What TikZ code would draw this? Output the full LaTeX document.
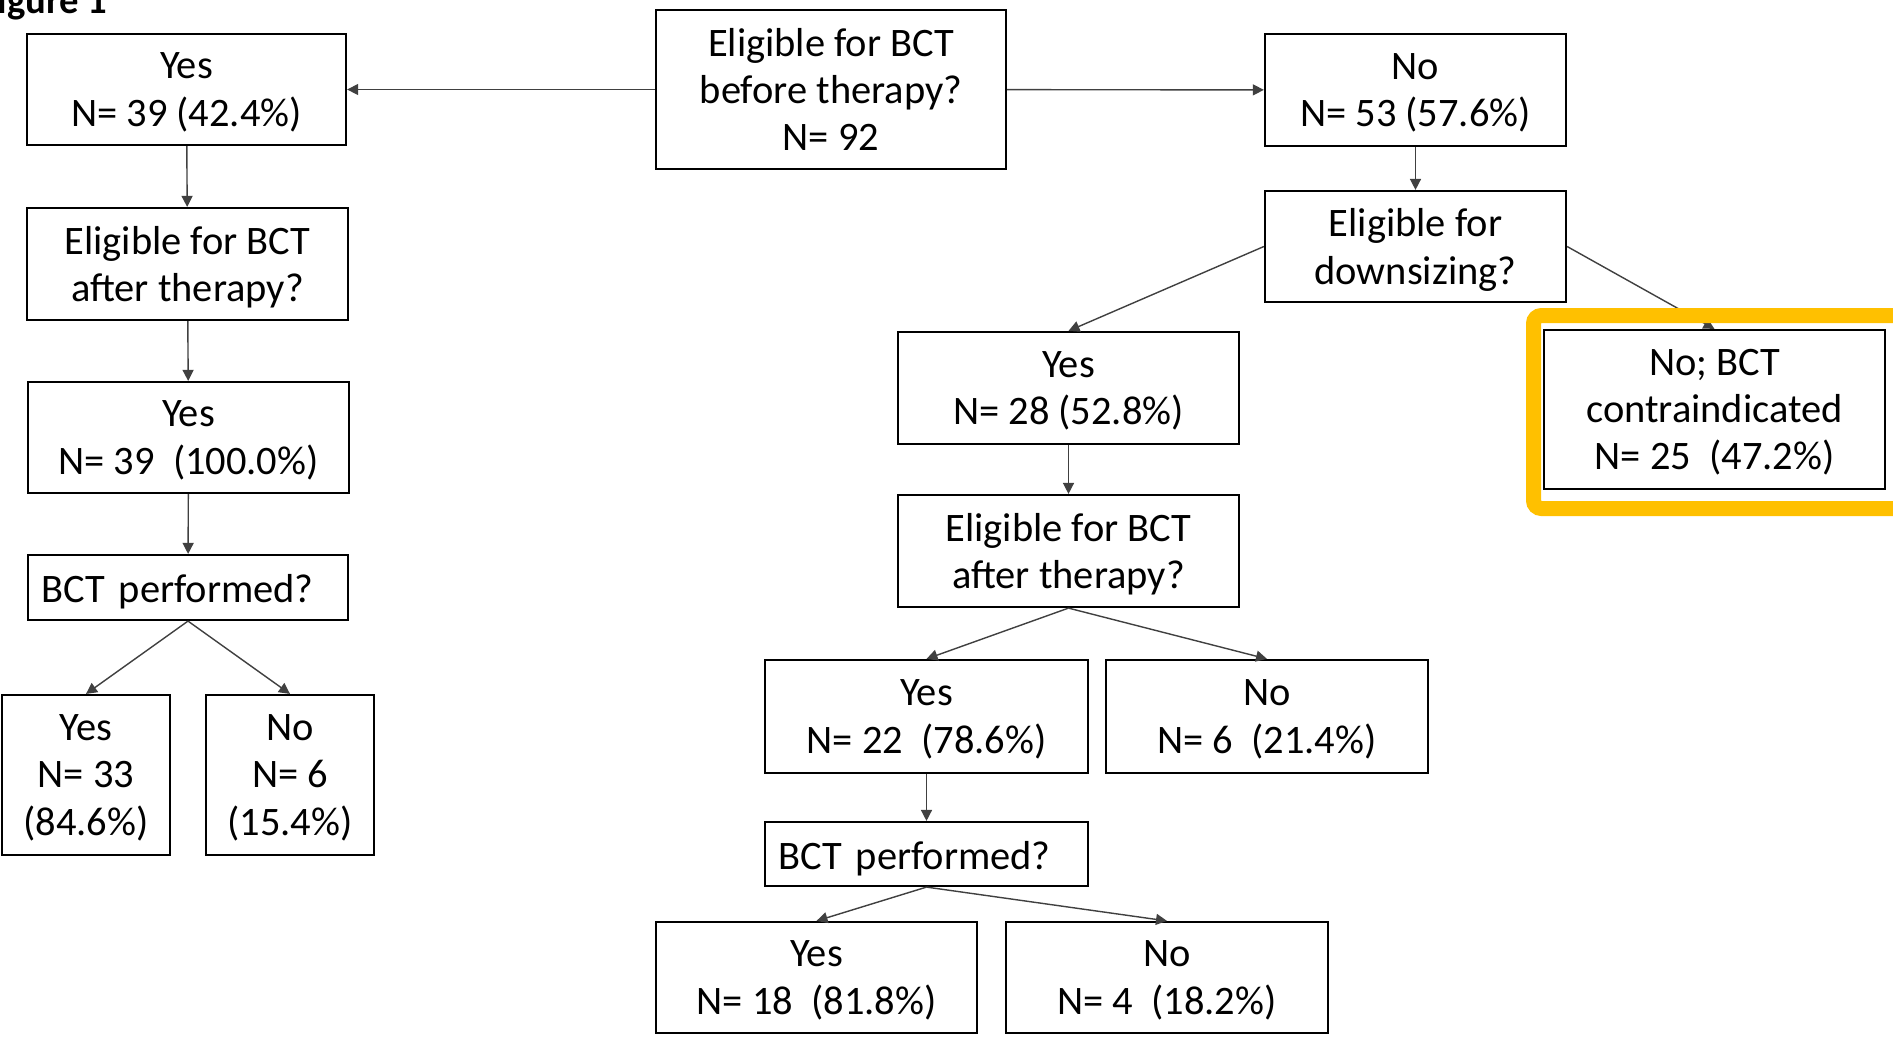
\documentclass[tikz,border=0pt]{standalone}
\usepackage{fontspec}
\setmainfont{Carlito}
\usetikzlibrary{arrows.meta}
\definecolor{frameorange}{HTML}{FFC000}
\tikzset{
  box/.style={draw, line width=0.6pt, align=center, inner sep=0pt, text depth=0pt,
    font=\fontsize{11.5}{13.4}\selectfont, execute at begin node={\rule{0pt}{8.6pt}}},
  leftbox/.style={box, align=left, text width=#1},
  link/.style={draw=black!75, line width=0.4pt, -{Triangle[length=1.1mm,width=1.1mm]}}
}
\begin{document}
\begin{tikzpicture}[x=0.01cm, y=-0.01cm]
    \useasboundingbox (0,0) rectangle (1893,1038);
    \node (fig) [anchor=base east, inner sep=0pt, font=\fontsize{11}{13}\bfseries] at (108,13) {Figure 1};
    % root and first split
    \node (root) [box, minimum width=3.5cm, minimum height=1.59cm] at (831,89.5) {Eligible for BCT\\before therapy?\\N= 92};
    \node (yes1) [box, minimum width=3.19cm, minimum height=1.11cm] at (186.5,89.5) {Yes\\N= 39 (42.4\%)};
    \node (no1) [box, minimum width=3.01cm, minimum height=1.12cm] at (1415.5,90) {No\\N= 53 (57.6\%)};
    % left branch
    \node (elig1) [box, minimum width=3.21cm, minimum height=1.12cm] at (187.5,264) {Eligible for BCT\\after therapy?};
    \node (yes2) [box, minimum width=3.21cm, minimum height=1.11cm] at (188.5,437.5) {Yes\\N= 39~~(100.0\%)};
    \node (perf1) [leftbox=2.92cm, inner xsep=0.14cm, minimum height=0.65cm] at (188,587.5) {\mbox{BCT performed?}};
    \node (yes3) [box, minimum width=1.68cm, minimum height=1.6cm] at (86,775) {Yes\\N= 33\\(84.6\%)};
    \node (no3) [box, minimum width=1.68cm, minimum height=1.6cm] at (290,775) {No\\N= 6\\(15.4\%)};
    % right branch
    \node (down) [box, minimum width=3.01cm, minimum height=1.11cm] at (1415.5,246.5) {Eligible for\\downsizing?};
    \node (yes4) [box, minimum width=3.41cm, minimum height=1.12cm] at (1068.5,388) {Yes\\N= 28 (52.8\%)};
    \node (contra) [box, minimum width=3.41cm, minimum height=1.59cm] at (1714.5,409.5) {No; BCT\\contraindicated\\N= 25~~(47.2\%)};
    \node (elig2) [box, minimum width=3.41cm, minimum height=1.12cm] at (1068.5,551) {Eligible for BCT\\after therapy?};
    \node (yes5) [box, minimum width=3.23cm, minimum height=1.13cm] at (926.5,716.5) {Yes\\N= 22~~(78.6\%)};
    \node (no5) [box, minimum width=3.22cm, minimum height=1.13cm] at (1267,716.5) {No\\N= 6~~(21.4\%)};
    \node (perf2) [leftbox=2.95cm, inner xsep=0.14cm, minimum height=0.64cm] at (926.5,854) {\mbox{BCT performed?}};
    \node (yes6) [box, minimum width=3.21cm, minimum height=1.11cm] at (816.5,977.5) {Yes\\N= 18~~(81.8\%)};
    \node (no6) [box, minimum width=3.22cm, minimum height=1.11cm] at (1167,977.5) {No\\N= 4~~(18.2\%)};
    \draw[link] (root) -- (yes1);
    \draw[link] (root) -- (no1);
    \draw[link] (yes1) -- (elig1);
    \draw[link] (elig1) -- (yes2);
    \draw[link] (yes2) -- (perf1);
    \draw[link] (perf1.south) -- (yes3.north);
    \draw[link] (perf1.south) -- (no3.north);
    \draw[link] (no1) -- (down);
    \draw[link] (down.west) -- (yes4.north);
    \draw[link] (down.east) -- (contra.north);
    \draw[link] (yes4) -- (elig2);
    \draw[link] (elig2.south) -- (yes5.north);
    \draw[link] (elig2.south) -- (no5.north);
    \draw[link] (yes5.south) -- (perf2.north);
    \draw[link] (perf2.south) -- (yes6.north);
    \draw[link] (perf2.south) -- (no6.north);
    % highlight round the contraindicated box
    \draw[frameorange, line width=0.15cm, rounded corners=0.08cm] (1950,315.5) -- (1533.5,315.5) -- (1533.5,508.5) -- (1950,508.5);
  \end{tikzpicture}
\end{document}
